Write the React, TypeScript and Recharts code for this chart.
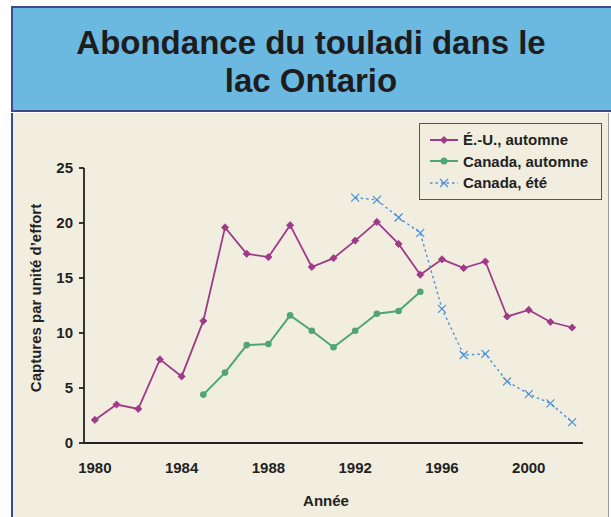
import { LineChart, Line, XAxis, YAxis, Legend } from 'recharts';

const years = [
  1980, 1981, 1982, 1983, 1984, 1985, 1986, 1987, 1988, 1989, 1990, 1991,
  1992, 1993, 1994, 1995, 1996, 1997, 1998, 1999, 2000, 2001, 2002,
];
const usAutumn = [
  2.1, 3.5, 3.1, 7.6, 6.05, 11.1, 19.6, 17.2, 16.9, 19.8, 16.0, 16.8,
  18.4, 20.1, 18.1, 15.3, 16.7, 15.9, 16.5, 11.5, 12.1, 11.0, 10.5,
];
const canadaAutumn = [
  null, null, null, null, null, 4.4, 6.4, 8.9, 9.0, 11.6, 10.2, 8.7,
  10.2, 11.75, 12.0, 13.75, null, null, null, null, null, null, null,
];
const canadaSummer = [
  null, null, null, null, null, null, null, null, null, null, null, null,
  22.3, 22.1, 20.5, 19.1, 12.2, 8.0, 8.1, 5.6, 4.45, 3.6, 1.9,
];
const labelYears = [1980, 1984, 1988, 1992, 1996, 2000];
const yTicks = [0, 5, 10, 15, 20, 25];
const seriesOrder = ['us', 'caAut', 'caSum'];

const data = years.map((year, i) => ({
  year,
  us: usAutumn[i],
  caAut: canadaAutumn[i],
  caSum: canadaSummer[i],
}));

// tick marks fall between the years
const minorTicks = [...years.map((y) => y - 0.5), 2002.5];

const PURPLE = '#9e3a88';
const GREEN = '#4fa478';
const BLUE = '#4a8fdb';
const FONT = '"Liberation Sans", Arial, Helvetica, sans-serif';

function Diamond({ cx, cy, color }: any) {
  if (cx == null || cy == null) return null;
  const r = 3.6;
  return (
    <path
      d={`M${cx},${cy - r}L${cx + r},${cy}L${cx},${cy + r}L${cx - r},${cy}Z`}
      fill={color}
      stroke={color}
      strokeWidth={0.8}
    />
  );
}

function Cross({ cx, cy, color }: any) {
  if (cx == null || cy == null) return null;
  const r = 4;
  return (
    <path
      d={`M${cx - r},${cy - r}L${cx + r},${cy + r}M${cx - r},${cy + r}L${cx + r},${cy - r}`}
      stroke={color}
      strokeWidth={1.2}
      fill="none"
    />
  );
}

function LegendBox({ payload }: any) {
  const items = [...(payload || [])].sort(
    (a: any, b: any) => seriesOrder.indexOf(a.dataKey) - seriesOrder.indexOf(b.dataKey)
  );
  return (
    <div
      style={{
        border: '1.5px solid #555',
        background: '#f2eedf',
        padding: '5px 0 5px 10px',
        fontFamily: FONT,
        fontWeight: 'bold',
        fontSize: 15,
        color: '#222',
        boxSizing: 'border-box',
        width: 183,
        textAlign: 'left',
      }}
    >
      {items.map((entry: any) => {
        const key = entry.dataKey;
        const color = entry.color;
        return (
          <div key={key} style={{ display: 'flex', alignItems: 'center', height: 21.5 }}>
            <svg width={32} height={12} style={{ marginRight: 1 }}>
              <line
                x1={0}
                y1={6}
                x2={28}
                y2={6}
                stroke={color}
                strokeWidth={key === 'caSum' ? 1.3 : 2}
                strokeDasharray={key === 'caSum' ? '2.5 3' : undefined}
              />
              {key === 'us' && <Diamond cx={14} cy={6} color={color} />}
              {key === 'caAut' && <circle cx={14} cy={6} r={3.5} fill={color} />}
              {key === 'caSum' && <Cross cx={14} cy={6} color={color} />}
            </svg>
            <span>{entry.value}</span>
          </div>
        );
      })}
    </div>
  );
}

export default function App() {
  const tickStyle = { fill: '#222', fontSize: 15, fontWeight: 'bold', fontFamily: FONT };
  return (
    <div style={{ position: 'absolute', left: 0, top: 0, width: 611, height: 517, background: '#fff', overflow: 'hidden' }}>
      {/* bandeau titre */}
      <div
        style={{
          position: 'absolute',
          left: 11,
          top: 6,
          width: 620,
          height: 106,
          background: '#6bb8e0',
          border: '2px solid #3a4c8c',
          boxSizing: 'border-box',
        }}
      />
      {/* panneau du graphique */}
      <div
        style={{
          position: 'absolute',
          left: 11,
          top: 113,
          width: 598,
          height: 420,
          background: '#f2eedf',
          borderLeft: '2px solid #3a4c8c',
          borderRight: '1px solid #9a9a9a',
          boxSizing: 'border-box',
        }}
      />
      <div
        style={{
          position: 'absolute',
          left: 11,
          width: 600,
          top: 24,
          textAlign: 'center',
          fontFamily: FONT,
          fontWeight: 'bold',
          fontSize: 33,
          lineHeight: '38px',
          color: '#1d1d1d',
        }}
      >
        Abondance du touladi dans le
        <br />
        lac Ontario
      </div>
      <div
        style={{
          position: 'absolute',
          left: 35,
          top: 298,
          transform: 'translate(-50%, -50%) rotate(-90deg)',
          whiteSpace: 'nowrap',
          fontFamily: FONT,
          fontWeight: 'bold',
          fontSize: 15,
          color: '#222',
        }}
      >
        Captures par unité d’effort
      </div>
      <div
        style={{
          position: 'absolute',
          left: 326,
          top: 500,
          transform: 'translate(-50%, -50%)',
          fontFamily: FONT,
          fontWeight: 'bold',
          fontSize: 15,
          color: '#222',
        }}
      >
        Année
      </div>
      <div style={{ position: 'absolute', left: 0, top: 0 }}>
        <LineChart width={611} height={517} data={data} margin={{ top: 168, right: 28, bottom: 38, left: 24 }}>
          <XAxis
            xAxisId="a_ticks"
            dataKey="year"
            type="number"
            domain={[1979.5, 2002.5]}
            ticks={minorTicks}
            tick={false}
            tickSize={4}
            height={6}
            stroke="#222"
            strokeWidth={1.8}
            allowDataOverflow
          />
          <XAxis
            xAxisId="b_labels"
            dataKey="year"
            type="number"
            domain={[1979.5, 2002.5]}
            ticks={labelYears}
            axisLine={false}
            tickLine={false}
            tickSize={6}
            tickMargin={7}
            height={30}
            tick={tickStyle}
            allowDataOverflow
          />
          <YAxis
            type="number"
            domain={[0, 25]}
            ticks={yTicks}
            width={60}
            tickSize={5}
            tickMargin={6}
            stroke="#222"
            strokeWidth={1.8}
            tick={tickStyle}
          />
          <Legend
            layout="horizontal"
            verticalAlign="middle"
            align="center"
            content={<LegendBox />}
            wrapperStyle={{ position: 'absolute', left: 419, top: 123, width: 183 }}
          />
          <Line
            xAxisId="a_ticks"
            dataKey="us"
            name="É.-U., automne"
            stroke={PURPLE}
            strokeWidth={1.8}
            dot={<Diamond color={PURPLE} />}
            isAnimationActive={false}
          />
          <Line
            xAxisId="a_ticks"
            dataKey="caAut"
            name="Canada, automne"
            stroke={GREEN}
            strokeWidth={2}
            dot={{ r: 3.3, fill: GREEN, stroke: GREEN, strokeWidth: 0 }}
            isAnimationActive={false}
          />
          <Line
            xAxisId="a_ticks"
            dataKey="caSum"
            name="Canada, été"
            stroke={BLUE}
            strokeWidth={1.4}
            strokeDasharray="2.5 3"
            dot={<Cross color={BLUE} />}
            isAnimationActive={false}
          />
        </LineChart>
      </div>
    </div>
  );
}
